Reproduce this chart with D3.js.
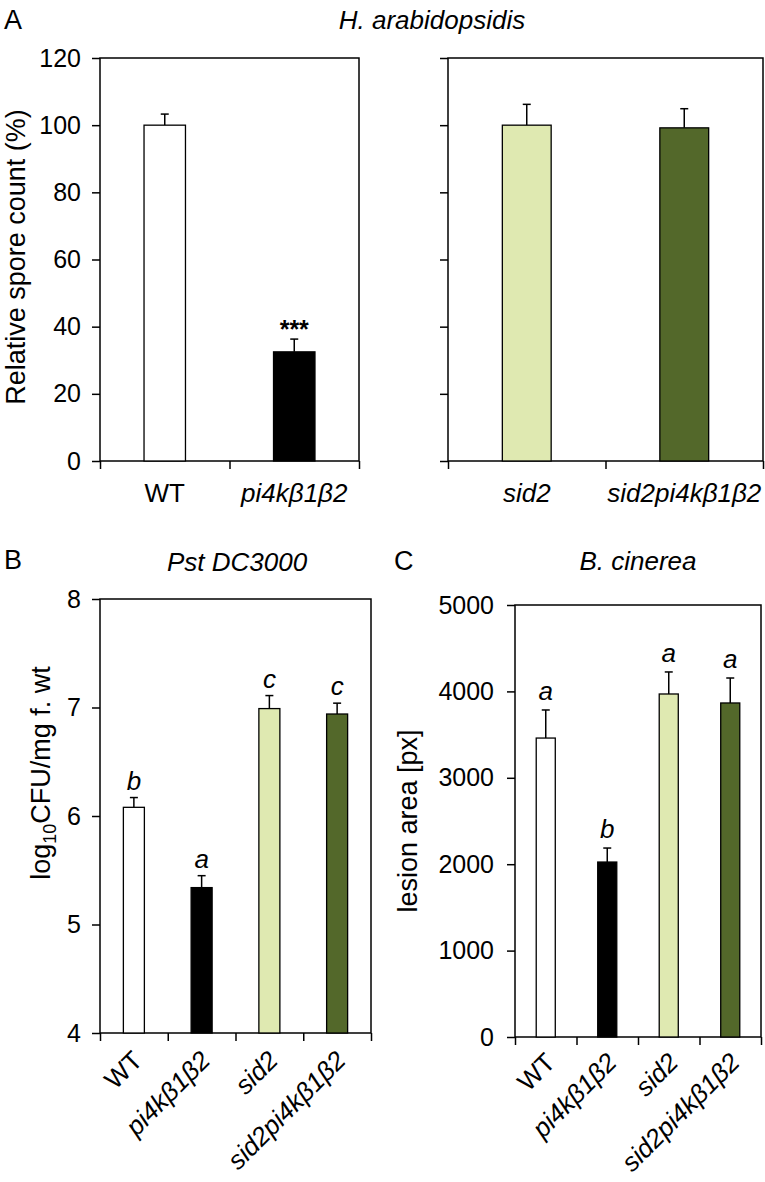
<!DOCTYPE html>
<html>
<head>
<meta charset="utf-8">
<script src="https://cdn.jsdelivr.net/npm/d3@7"></script>
<style>
  body { margin: 0; background: #fff; }
  svg text { font-family: "Liberation Sans", Arial, Helvetica, sans-serif; fill: #000; }
</style>
</head>
<body>
<div id="chart"></div>
<script>
// panel A, H. arabidopsidis
var catsA1 = ["WT", "pi4kβ1β2"];
var valsA1 = [100, 32.5];
var errA1 = [3.3, 3.8];
var catsA2 = ["sid2", "sid2pi4kβ1β2"];
var valsA2 = [100, 99.2];
var errA2 = [6.2, 5.7];
var ticksA = [0, 20, 40, 60, 80, 100, 120];

// panel B and C share genotypes
var catsBC = ["WT", "pi4kβ1β2", "sid2", "sid2pi4kβ1β2"];
var valsB = [6.08, 5.34, 6.99, 6.94];
var errB = [0.09, 0.11, 0.12, 0.10];
var letB = ["b", "a", "c", "c"];
var ticksB = [4, 5, 6, 7, 8];

var valsC = [3460, 2025, 3970, 3866];
var errC = [325, 162, 255, 289];
var letC = ["a", "b", "a", "a"];
var ticksC = [0, 1000, 2000, 3000, 4000, 5000];

var fills = { "WT": "#ffffff", "pi4kβ1β2": "#000000", "sid2": "#dfe9b1", "sid2pi4kβ1β2": "#53682a" };

var svg = d3.select("#chart").append("svg")
    .attr("width", 765)
    .attr("height", 1182);

function drawPanel(p) {
	var g = svg.append("g").attr("transform", "translate(" + p.left + "," + p.top + ")");
	var y = d3.scaleLinear().domain(p.domain).range([p.h, 0]);
	var x = d3.scaleBand().domain(p.cats).range([0, p.w]);
	var edge = d3.scaleLinear().domain([0, p.cats.length]).range([0, p.w]);
	var bw = x.bandwidth() * p.barFrac;

	// y axis
	var ya = g.append("g")
	    .call(d3.axisLeft(y).tickValues(p.ticks).tickSize(8).tickSizeOuter(0).tickPadding(p.pad || 11)
	      .tickFormat(p.yLabels ? d3.format("d") : ""));
	ya.selectAll("text").style("font-size", "25px");

	// x axis ticks at band edges
	g.append("g")
	    .attr("transform", "translate(0," + p.h + ")")
	    .call(d3.axisBottom(edge).tickValues(d3.range(p.cats.length + 1)).tickSize(8).tickSizeOuter(0).tickFormat(""));
	g.selectAll(".domain").remove();
	g.selectAll(".tick line").attr("stroke", "#000").attr("stroke-width", 1.5);

	// frame
	g.append("rect")
	    .attr("width", p.w)
	    .attr("height", p.h)
	    .attr("fill", "none")
	    .attr("stroke", "#000")
	    .attr("stroke-width", 1.5);

	var data = p.cats.map(function(c, i) { return { cat: c, v: p.vals[i], e: p.errs[i], lab: p.lets ? p.lets[i] : null }; });

	var bars = g.selectAll(".bar").data(data).enter().append("g");
	var cx = function(d) { return x(d.cat) + x.bandwidth() / 2; };

	// error bars
	bars.append("line")
	    .attr("x1", cx).attr("x2", cx)
	    .attr("y1", function(d) { return y(d.v); })
	    .attr("y2", function(d) { return y(d.v + d.e); })
	    .attr("stroke", "#000").attr("stroke-width", 1.5);
	bars.append("line")
	    .attr("x1", function(d) { return cx(d) - 4; })
	    .attr("x2", function(d) { return cx(d) + 4; })
	    .attr("y1", function(d) { return y(d.v + d.e); })
	    .attr("y2", function(d) { return y(d.v + d.e); })
	    .attr("stroke", "#000").attr("stroke-width", 1.5);

	bars.append("rect")
	    .attr("x", function(d) { return cx(d) - bw / 2; })
	    .attr("y", function(d) { return y(d.v); })
	    .attr("width", bw)
	    .attr("height", function(d) { return p.h - y(d.v); })
	    .attr("fill", function(d) { return fills[d.cat]; })
	    .attr("stroke", "#000")
	    .attr("stroke-width", 1.3);

	bars.filter(function(d) { return d.lab; }).append("text")
	    .attr("x", cx)
	    .attr("y", function(d) { return y(d.v + d.e) - p.labGap; })
	    .attr("text-anchor", "middle")
	    .style("font-size", p.labSize + "px")
	    .style("font-style", p.labItalic ? "italic" : "normal")
	    .style("font-weight", p.labItalic ? "normal" : "bold")
	    .text(function(d) { return d.lab; });

	// category labels
	var lab = g.selectAll(".cat").data(data).enter().append("text")
	    .style("font-size", "26px")
	    .style("font-style", function(d) { return d.cat == "WT" ? "normal" : "italic"; })
	    .text(function(d) { return d.cat; });
	if(p.rotate) {
		lab.attr("text-anchor", "end")
		    .attr("transform", function(d) { return "translate(" + (cx(d) + p.rx) + "," + (p.h + p.ry) + ") rotate(-45)"; });
	}
	else {
		lab.attr("text-anchor", "middle")
		    .attr("x", cx)
		    .attr("y", p.h + 41);
	}
	return g;
};

drawPanel({ left: 100, top: 58, w: 259, h: 403, domain: [0, 120], ticks: ticksA, yLabels: true,
	cats: catsA1, vals: valsA1, errs: errA1, lets: ["", "***"], labGap: 1, labSize: 25, labItalic: false, barFrac: 0.32 });
drawPanel({ left: 448, top: 58, w: 315, h: 403, domain: [0, 120], ticks: ticksA, yLabels: false,
	cats: catsA2, vals: valsA2, errs: errA2, barFrac: 0.31 });
drawPanel({ left: 100, top: 599, w: 271, h: 434, domain: [4, 8], ticks: ticksB, yLabels: true,
	cats: catsBC, vals: valsB, errs: errB, lets: letB, labGap: 8, labSize: 26, labItalic: true, barFrac: 0.31,
	rotate: true, rx: 10, ry: 29 });
drawPanel({ left: 515, top: 605, w: 246, h: 432, domain: [0, 5000], ticks: ticksC, yLabels: true, pad: 13,
	cats: catsBC, vals: valsC, errs: errC, lets: letC, labGap: 10, labSize: 26, labItalic: true, barFrac: 0.31,
	rotate: true, rx: 11, ry: 27 });

// panel letters and titles
var letters = [["A", 4, 29], ["B", 4, 569], ["C", 394, 570]];
svg.selectAll(".plab").data(letters).enter().append("text")
    .attr("x", function(d) { return d[1]; })
    .attr("y", function(d) { return d[2]; })
    .style("font-size", "27px")
    .text(function(d) { return d[0]; });

var titles = [["H. arabidopsidis", 432, 29], ["Pst DC3000", 237, 571], ["B. cinerea", 638, 570]];
svg.selectAll(".ttl").data(titles).enter().append("text")
    .attr("x", function(d) { return d[1]; })
    .attr("y", function(d) { return d[2]; })
    .attr("text-anchor", "middle")
    .style("font-size", "26px")
    .style("font-style", "italic")
    .text(function(d) { return d[0]; });

// y axis titles
svg.append("text")
    .attr("transform", "translate(25,257) rotate(-90)")
    .attr("text-anchor", "middle")
    .style("font-size", "27px")
    .text("Relative spore count (%)");

var lt = svg.append("text")
    .attr("transform", "translate(50,773) rotate(-90)")
    .attr("text-anchor", "middle")
    .style("font-size", "27px");
lt.append("tspan").text("log");
lt.append("tspan").attr("dy", 6).style("font-size", "18px").text("10");
lt.append("tspan").attr("dy", -6).text("CFU/mg f. wt");

svg.append("text")
    .attr("transform", "translate(417,821) rotate(-90)")
    .attr("text-anchor", "middle")
    .style("font-size", "27px")
    .text("lesion area [px]");
</script>
</body>
</html>
